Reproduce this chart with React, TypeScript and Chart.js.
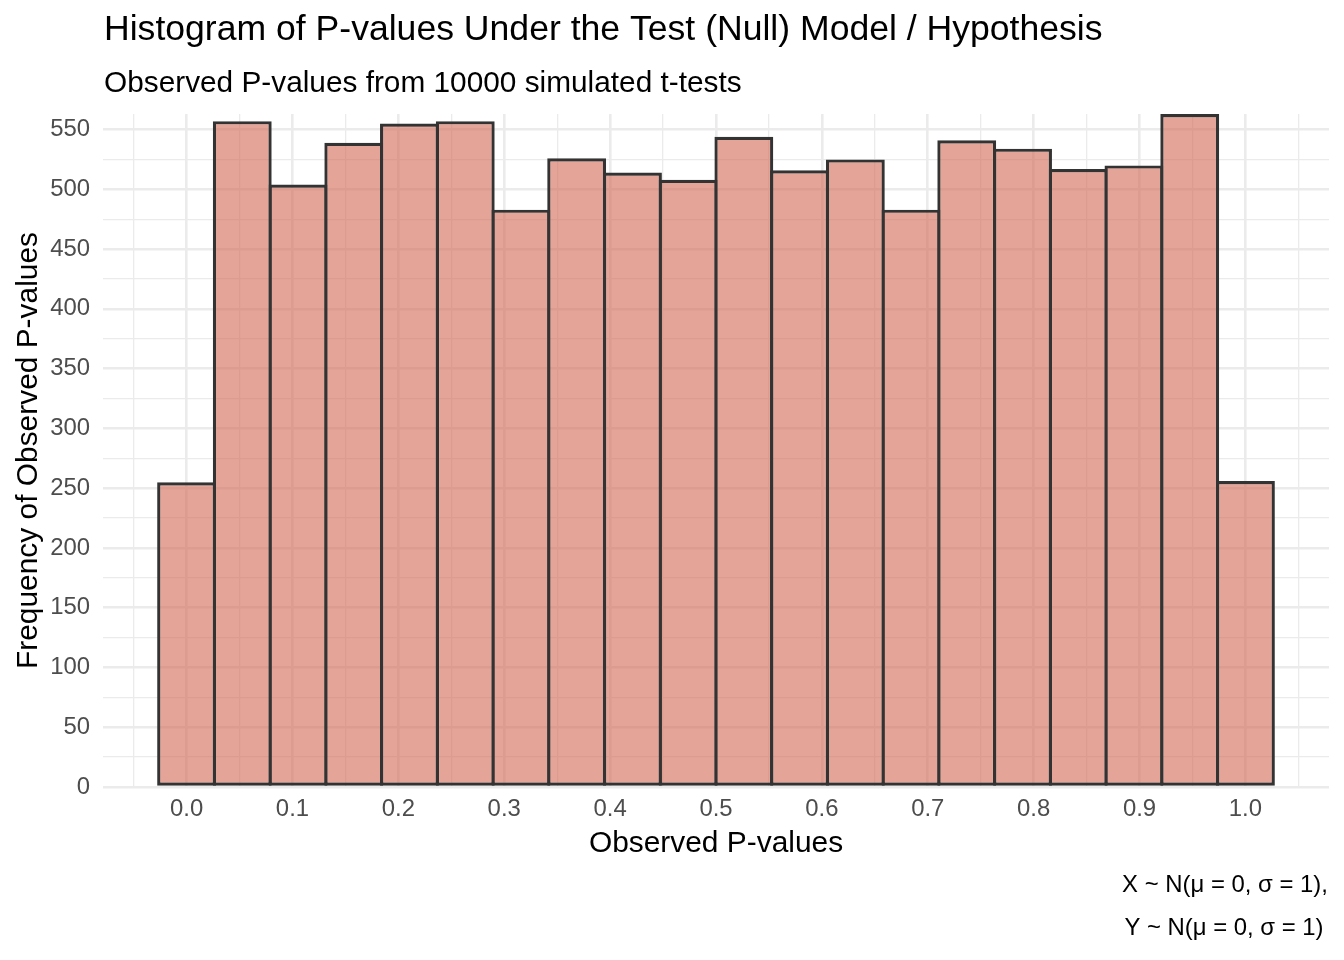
import React, { useEffect, useRef } from "react";
import { Chart, registerables } from "chart.js";

Chart.register(...registerables);

// ---- Data ----
const BIN_CENTERS = [
  0.0, 0.0526, 0.1053, 0.1579, 0.2105, 0.2632, 0.3158, 0.3684, 0.4211, 0.4737,
  0.5263, 0.5789, 0.6316, 0.6842, 0.7368, 0.7895, 0.8421, 0.8947, 0.9474, 1.0,
];
const COUNTS = [
  255, 557, 504, 539, 555, 557, 483, 526, 514, 508,
  544, 516, 525, 483, 541, 534, 517, 520, 563, 256,
];
const X_TICK_LABELS = ["0.0", "0.1", "0.2", "0.3", "0.4", "0.5", "0.6", "0.7", "0.8", "0.9", "1.0"];
const Y_TICK_LABELS = ["0", "50", "100", "150", "200", "250", "300", "350", "400", "450", "500", "550"];

const TITLE = "Histogram of P-values Under the Test (Null) Model / Hypothesis";
const SUBTITLE = "Observed P-values from 10000 simulated t-tests";
const X_TITLE = "Observed P-values";
const Y_TITLE = "Frequency of Observed P-values";
const CAPTION = ["X ~ N(μ = 0, σ = 1),", "Y ~ N(μ = 0, σ = 1)"];

const FONT = "'Liberation Sans', Arial, Helvetica, sans-serif";
const GRID = "#EBEBEB";

const isMajorX = (v: number) => Math.abs(v * 10 - Math.round(v * 10)) < 1e-6;
const isMajorY = (v: number) => Math.abs(v / 50 - Math.round(v / 50)) < 1e-6;

const textPlugin = {
  id: "ggTexts",
  afterDraw(chart: any) {
    const { ctx, chartArea } = chart;
    ctx.save();
    ctx.fillStyle = "#000000";
    ctx.textBaseline = "alphabetic";
    ctx.textAlign = "left";
    ctx.font = `35.6px ${FONT}`;
    ctx.fillText(TITLE, chartArea.left + 1, 40);
    ctx.font = `29.8px ${FONT}`;
    ctx.fillText(SUBTITLE, chartArea.left + 1, 92);
    ctx.font = `29.9px ${FONT}`;
    ctx.textAlign = "center";
    ctx.fillText(X_TITLE, (chartArea.left + chartArea.right) / 2, 852);
    ctx.save();
    ctx.translate(37, (chartArea.top + chartArea.bottom) / 2);
    ctx.rotate(-Math.PI / 2);
    ctx.fillText(Y_TITLE, 0, 0);
    ctx.restore();
    ctx.font = `23.9px ${FONT}`;
    ctx.fillText(CAPTION[0], 1225, 891.5);
    ctx.fillText(CAPTION[1], 1224, 935);
    ctx.restore();
  },
};

export default function App() {
  const ref = useRef<HTMLCanvasElement | null>(null);

  useEffect(() => {
    if (!ref.current) return;
    const binW = BIN_CENTERS[1] - BIN_CENTERS[0];
    const lo = BIN_CENTERS[0] - binW / 2;
    const hi = BIN_CENTERS[BIN_CENTERS.length - 1] + binW / 2;
    const pad = (hi - lo) * 0.05;
    const xMin = lo - pad;
    const xMax = hi + pad;

    const chart = new Chart(ref.current, {
      type: "bar",
      data: {
        datasets: [
          {
            label: "Frequency",
            data: BIN_CENTERS.map((c, i) => ({ x: c, y: COUNTS[i] })),
            xAxisID: "xb",
            yAxisID: "y",
            backgroundColor: "rgba(210,105,83,0.6)",
            borderColor: "#333333",
            borderWidth: 3.2,
            borderSkipped: false,
            barPercentage: 1.057,
            categoryPercentage: 1,
          } as any,
        ],
      },
      options: {
        animation: false,
        responsive: false,
        devicePixelRatio: 1,
        layout: { padding: { top: 114, right: 15, bottom: 0, left: 0 } },
        plugins: {
          legend: { display: false },
          title: { display: false },
          tooltip: { enabled: false },
        },
        scales: {
          xb: {
            type: "linear",
            display: false,
            offset: false,
            grid: { offset: false },
            min: xMin,
            max: xMax,
            ticks: { stepSize: 0.5, includeBounds: false },
          },
          x: {
            type: "linear",
            position: "bottom",
            offset: false,
            min: xMin,
            max: xMax,
            border: { display: false },
            grid: {
              offset: false,
              color: GRID,
              drawTicks: false,
              lineWidth: (c: any) => (c.tick && isMajorX(c.tick.value) ? 2.6 : 1.3),
            },
            ticks: {
              stepSize: 0.05,
              includeBounds: false,
              autoSkip: false,
              maxRotation: 0,
              padding: 8,
              color: "#4D4D4D",
              font: { family: FONT, size: 23.9 },
              callback: (v: any) => {
                const n = Number(v);
                if (!isMajorX(n)) return "";
                const idx = Math.round(n * 10);
                return X_TICK_LABELS[idx] ?? "";
              },
            },
            afterFit: (s: any) => {
              s.height = 173;
            },
          },
          y: {
            type: "linear",
            min: 0,
            max: Math.max(...COUNTS),
            border: { display: false },
            grid: {
              color: GRID,
              drawTicks: false,
              lineWidth: (c: any) => (c.tick && isMajorY(c.tick.value) ? 2.6 : 1.3),
            },
            ticks: {
              stepSize: 25,
              includeBounds: false,
              autoSkip: false,
              padding: 13,
              color: "#4D4D4D",
              font: { family: FONT, size: 23.9 },
              callback: (v: any) => {
                const n = Number(v);
                if (!isMajorY(n)) return "";
                return Y_TICK_LABELS[Math.round(n / 50)] ?? "";
              },
            },
            afterFit: (s: any) => {
              s.width = 103;
            },
          },
        },
      },
      plugins: [textPlugin],
    });
    return () => chart.destroy();
  }, []);

  return (
    <div style={{ position: "fixed", left: 0, top: 0, width: 1344, height: 960, background: "#ffffff" }}>
      <canvas ref={ref} width={1344} height={960} style={{ width: 1344, height: 960, display: "block" }} />
    </div>
  );
}
